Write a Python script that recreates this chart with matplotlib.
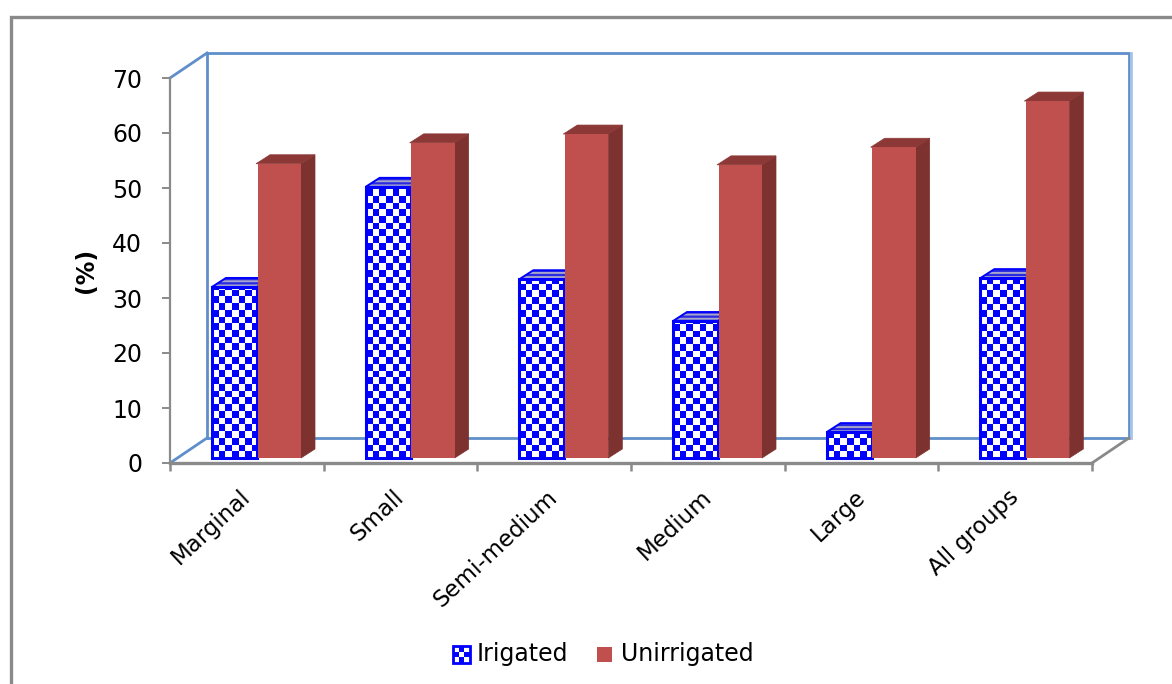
import numpy as np
import matplotlib
matplotlib.use('Agg')
import matplotlib.pyplot as plt
from matplotlib.colors import ListedColormap
from matplotlib.patches import Polygon, Rectangle
from matplotlib.transforms import ScaledTranslation

categories = ['Marginal', 'Small', 'Semi-medium', 'Medium', 'Large', 'All groups']
irrigated = [31.1, 49.3, 32.5, 24.9, 4.7, 32.7]
unirrigated = [53.5, 57.3, 58.9, 53.3, 56.5, 64.9]
y_ticks = [0, 10, 20, 30, 40, 50, 60, 70]

W, H = 1172, 684
GRAY = '#8a8a8a'
WALL = '#5f8fca'
RED = '#c0504d'
RED_SIDE = '#7d3230'
RED_TOP = '#8c3836'
BLUE = '#0000ff'
CHECKER = ListedColormap(['#ffffff', BLUE])

# plot area in pixels
LEFT, RIGHT, TOP, BOTTOM = 170, 1092, 78, 463
CELL = 6.7 # size of a check in pixels

fig = plt.figure(figsize=(W / 100, H / 100), dpi=100)

# overlay in pixel units for the outer frame and the legend
bg = fig.add_axes([0, 0, 1, 1])
bg.set_xlim(0, W)
bg.set_ylim(H, 0)
bg.axis('off')
bg.plot([10.5, 10.5, W], [H, 16.5, 16.5], color=GRAY, lw=2.4, solid_joinstyle='miter')

ax = fig.add_axes([LEFT / W, 1 - BOTTOM / H, (RIGHT - LEFT) / W, (BOTTOM - TOP) / H])
ax.set_xlim(0, len(categories))
ax.set_ylim(0, 70)
ax.patch.set_alpha(0)

# pixel to data scale
px_x = len(categories) / (RIGHT - LEFT)
px_y = 70 / (BOTTOM - TOP)

BASE = 5 * px_y # bars stand slightly behind the front edge of the floor
DX, DY = 14 * px_x, 9 * px_y # bar depth
WALL_X, WALL_Y = 37 * px_x, 25 * px_y # chart depth
BAR_W = 45 * px_x


def checks(x0, x1, y0, y1):
	# checked fill made of whole cells, anchored on the lower left corner
	nx = int(np.ceil((x1 - x0) / (CELL * px_x)))
	ny = int(np.ceil((y1 - y0) / (CELL * px_y)))
	grid = np.indices((ny, nx)).sum(axis=0) % 2
	return grid, [x0, x0 + nx * CELL * px_x, y0, y0 + ny * CELL * px_y]


def draw_walls():
	top = 70 + WALL_Y
	floor = WALL_Y
	xr = len(categories) + WALL_X
	ax.plot([WALL_X, WALL_X, xr, xr, WALL_X], [floor, top, top, floor, floor],
		color=WALL, lw=2, clip_on=False, zorder=1, solid_joinstyle='miter')
	ax.plot([xr + 1.5 * px_x] * 2, [floor, top], color='#a9c4e8', lw=2, clip_on=False, zorder=1)
	ax.plot([0, WALL_X], [70, top], color=WALL, lw=2, clip_on=False, zorder=1)
	ax.plot([0, WALL_X], [0, floor], color=WALL, lw=2, clip_on=False, zorder=1)
	ax.plot([len(categories), xr], [0, floor], color=GRAY, lw=2, clip_on=False, zorder=1)


def top_face(x, value):
	y1 = BASE + value
	return [(x, y1), (x + BAR_W, y1), (x + BAR_W + DX, y1 + DY), (x + DX, y1 + DY)]


def box_sides(x, value, side, top, zorder):
	y0, y1 = BASE, BASE + value
	ax.add_patch(Polygon([(x + BAR_W, y0), (x + BAR_W + DX, y0 + DY), (x + BAR_W + DX, y1 + DY), (x + BAR_W, y1)],
		fc=side, ec=side, lw=0.5, zorder=zorder, clip_on=False))
	ax.add_patch(Polygon(top_face(x, value), fc=top, ec=top, lw=0.5, zorder=zorder, clip_on=False))


draw_walls()
plt.rcParams['hatch.linewidth'] = 1.4

for i, (low, high) in enumerate(zip(irrigated, unirrigated)):
	# irrigated box: checked front, streaked top
	x = i + 42 * px_x
	box_sides(x, low, BLUE, '#2a2ae0', 3)
	ax.add_patch(Polygon(top_face(x, low), fc='none', ec='#a6a6cc', hatch='----', lw=0, zorder=3.1, clip_on=False))
	ax.add_patch(Polygon(top_face(x, low), fc='none', ec=BLUE, lw=1.4, zorder=3.2, clip_on=False))
	ax.bar(x, low, BAR_W, bottom=BASE, align='edge', fc='none', ec=BLUE, lw=2.2, zorder=5, clip_on=False)
	grid, extent = checks(x, x + BAR_W, BASE, BASE + low)
	img = ax.imshow(grid, cmap=CHECKER, extent=extent, origin='lower', aspect='auto',
		interpolation='nearest', zorder=4)
	img.set_clip_path(Rectangle((x, BASE), BAR_W, low, transform=ax.transData))

	# unirrigated box
	x2 = x + BAR_W + 0.5 * px_x
	ax.bar(x2, high, BAR_W - 1.5 * px_x, bottom=BASE, align='edge', color=RED, zorder=7, clip_on=False)
	box_sides(x2 - 1.5 * px_x, high, RED_SIDE, RED_TOP, 6)

ax.set_xlim(0, len(categories))
ax.set_ylim(0, 70)

for side in ['top', 'right']:
	ax.spines[side].set_visible(False)
ax.spines['left'].set_color(GRAY)
ax.spines['left'].set_linewidth(1.6)
ax.spines['bottom'].set_color(GRAY)
ax.spines['bottom'].set_linewidth(2.4)

ax.set_yticks(y_ticks)
ax.tick_params(axis='y', color=GRAY, length=6, width=1.4, labelsize=17, pad=14)
ax.set_xticks(np.arange(len(categories) + 1))
ax.set_xticklabels([])
ax.tick_params(axis='x', color=GRAY, length=6, width=1.8)
ax.set_xticks(np.arange(len(categories)) + 0.5, minor=True)
ax.set_xticklabels(categories, minor=True, rotation=43, ha='right', rotation_mode='anchor', fontsize=16.5)
ax.tick_params(axis='x', which='minor', length=0, pad=16)
shift = ScaledTranslation(-5.4 / 72, 0, fig.dpi_scale_trans)
for label in ax.get_xticklabels(minor=True):
	label.set_transform(label.get_transform() + shift)
ax.set_ylabel('(%)', fontsize=17, fontweight='bold')
ax.yaxis.set_label_coords((98 - LEFT) / (RIGHT - LEFT), 0.5)

# legend
grid = np.indices((3, 3)).sum(axis=0) % 2
bg.imshow(grid, cmap=CHECKER, extent=[453, 470, 663, 646], aspect='auto', interpolation='nearest', zorder=2)
bg.add_patch(Rectangle((453, 646), 17, 17, fc='none', ec=BLUE, lw=2, zorder=3))
bg.add_patch(Rectangle((597, 647), 15, 15, fc=RED, ec='none', zorder=3))
bg.text(477, 654, 'Irigated', fontsize=17, va='center', ha='left')
bg.text(621, 654, 'Unirrigated', fontsize=17, va='center', ha='left')
bg.set_xlim(0, W)
bg.set_ylim(H, 0)

fig.savefig('out.png', dpi=100)
